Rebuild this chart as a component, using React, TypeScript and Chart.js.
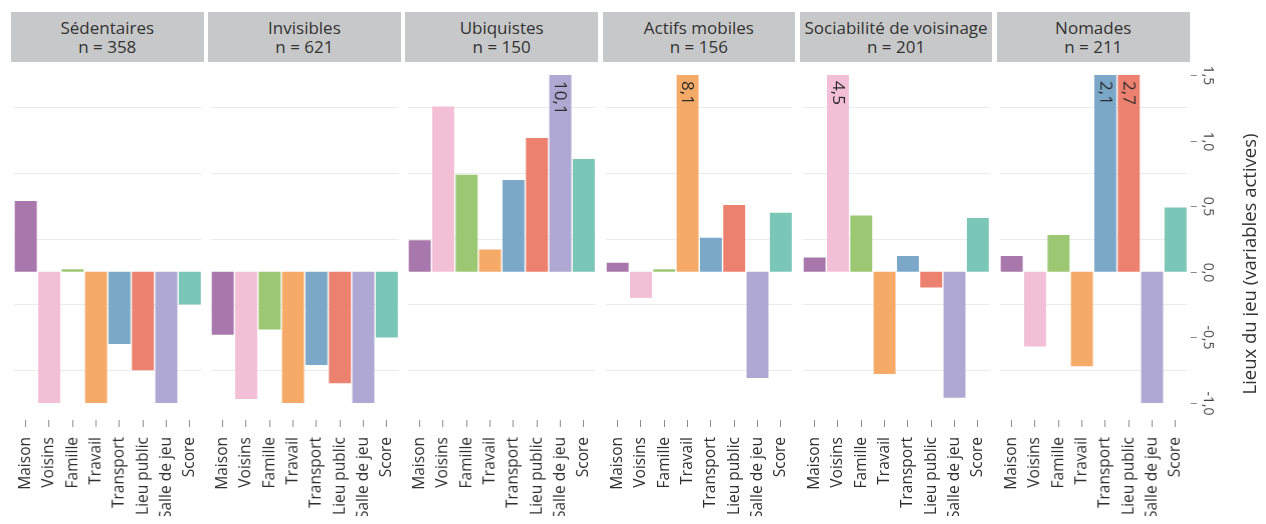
import { useEffect, useRef } from 'react';
import { Chart, registerables } from 'chart.js';

Chart.register(...registerables);

const categories = ['Maison', 'Voisins', 'Famille', 'Travail', 'Transport', 'Lieu public', 'Salle de jeu', 'Score'];
const panelNames = ['Sédentaires', 'Invisibles', 'Ubiquistes', 'Actifs mobiles', 'Sociabilité de voisinage', 'Nomades'];
const panelCounts = [358, 621, 150, 156, 201, 211];

// values, bars beyond the axis are clipped and labelled
const sedentaires = [0.54, -1.0, 0.02, -1.0, -0.55, -0.75, -1.0, -0.25];
const invisibles = [-0.48, -0.97, -0.44, -1.0, -0.71, -0.85, -1.0, -0.5];
const ubiquistes = [0.24, 1.26, 0.74, 0.17, 0.7, 1.02, 10.1, 0.86];
const actifsMobiles = [0.07, -0.2, 0.02, 8.1, 0.26, 0.51, -0.81, 0.45];
const sociabilite = [0.11, 4.5, 0.43, -0.78, 0.12, -0.12, -0.96, 0.41];
const nomades = [0.12, -0.57, 0.28, -0.72, 2.1, 2.7, -1.0, 0.49];
const panelValues = [sedentaires, invisibles, ubiquistes, actifsMobiles, sociabilite, nomades];

const barColors = ['#a878ad', '#f3bfd7', '#9cc874', '#f5ab67', '#7ba8c8', '#ec8170', '#aea8d2', '#7ac6b7'];
const yTickValues = [-1, -0.5, 0, 0.5, 1, 1.5];
const yGridValues = [-0.75, -0.25, 0.25, 0.75, 1.25];
const yTitle = 'Lieux du jeu (variables actives)';

const Y_MIN = -1.13;
const Y_MAX = 1.6;
const CLIP_LOW = -1;
const CLIP_HIGH = 1.5;

const PANEL_LEFT = 11;
const PANEL_STEP = 197.2;
const PANEL_W = 192.5;
const AXIS_W = 76;
const STRIP_TOP = 12;
const STRIP_H = 50;
const PLOT_TOP = 62;
const PLOT_H = 358;
const X_AXIS_H = 112;
const SIDE_PAD = 3;

const FONT = "'Open Sans', sans-serif";

const fmt = (v: number) => v.toFixed(1).replace('.', ',');
const clip = (v: number) => Math.max(CLIP_LOW, Math.min(CLIP_HIGH, v));

function overflowLabels(raw: number[]) {
  return {
    id: 'overflowLabels',
    afterDatasetsDraw(chart: any) {
      const ctx = chart.ctx;
      const meta = chart.getDatasetMeta(0);
      ctx.save();
      ctx.font = `500 17px ${FONT}`;
      ctx.fillStyle = '#2b2b2b';
      meta.data.forEach((bar: any, i: number) => {
        if (raw[i] <= CLIP_HIGH) return;
        const { x, y, width } = bar.getProps(['x', 'y', 'width'], true);
        ctx.save();
        ctx.translate(x + width / 2 - 3, y + 6);
        ctx.rotate(Math.PI / 2);
        ctx.textAlign = 'left';
        ctx.textBaseline = 'top';
        ctx.fillText(fmt(raw[i]), 0, 0);
        ctx.restore();
      });
      ctx.restore();
    },
  };
}

const rightAxis = {
  id: 'rightAxis',
  afterDraw(chart: any) {
    const ctx = chart.ctx;
    const area = chart.chartArea;
    const yScale = chart.scales.y;
    const edge = area.right + SIDE_PAD;
    ctx.save();
    ctx.strokeStyle = '#8a8a8a';
    ctx.lineWidth = 1;
    ctx.fillStyle = '#444444';
    ctx.font = `14px ${FONT}`;
    yTickValues.forEach((v) => {
      const py = Math.round(yScale.getPixelForValue(v)) + 0.5;
      ctx.beginPath();
      ctx.moveTo(edge + 0.5, py);
      ctx.lineTo(edge + 6.5, py);
      ctx.stroke();
      ctx.save();
      ctx.translate(edge + 17.5, py);
      ctx.rotate(Math.PI / 2);
      ctx.textAlign = 'center';
      ctx.textBaseline = 'middle';
      ctx.fillText(fmt(v), 0, 0);
      ctx.restore();
    });
    ctx.save();
    ctx.fillStyle = '#333333';
    ctx.font = `18.5px ${FONT}`;
    ctx.translate(edge + 60, (area.top + area.bottom) / 2 + 23);
    ctx.rotate(-Math.PI / 2);
    ctx.textAlign = 'center';
    ctx.textBaseline = 'middle';
    ctx.fillText(yTitle, 0, 0);
    ctx.restore();
    ctx.restore();
  },
};

function Panel({ index }: { index: number }) {
  const chartRef = useRef<HTMLCanvasElement | null>(null);
  const last = index === panelNames.length - 1;
  const width = PANEL_W + (last ? AXIS_W : 0);

  useEffect(() => {
    if (!chartRef.current) return;
    const raw = panelValues[index];
    const plugins: any[] = [overflowLabels(raw)];
    if (last) plugins.push(rightAxis);
    const chart = new Chart(chartRef.current, {
      type: 'bar',
      data: {
        labels: categories,
        datasets: [{
          data: raw.map(clip),
          backgroundColor: barColors,
          borderWidth: 0,
          barPercentage: 0.94,
          categoryPercentage: 1,
        }],
      },
      options: {
        animation: false,
        responsive: true,
        maintainAspectRatio: false,
        events: [],
        layout: { padding: { top: 0, bottom: 0, left: SIDE_PAD, right: SIDE_PAD + (last ? AXIS_W : 0) } },
        plugins: { legend: { display: false }, tooltip: { enabled: false } },
        scales: {
          x: {
            grid: { display: true, drawOnChartArea: false, drawTicks: true, tickLength: 7, offset: false, color: '#8a8a8a' },
            border: { display: false },
            ticks: {
              minRotation: 90,
              maxRotation: 90,
              autoSkip: false,
              padding: 10,
              color: '#2f2f2f',
              font: { family: FONT, size: 15.5, weight: 500 },
            },
            afterFit: (scale: any) => {
              scale.height = X_AXIS_H;
              scale.paddingLeft = 0;
              scale.paddingRight = 0;
            },
          },
          y: {
            min: Y_MIN,
            max: Y_MAX,
            grid: { color: '#ebebeb', lineWidth: 1, drawTicks: false },
            border: { display: false },
            ticks: { display: false },
            afterBuildTicks: (axis: any) => {
              axis.ticks = yGridValues.map((v) => ({ value: v }));
            },
          },
        },
      },
      plugins,
    });
    return () => chart.destroy();
  }, [index, last]);

  return (
    <div style={{ position: 'absolute', left: PANEL_LEFT + index * PANEL_STEP, top: 0, width, height: 524 }}>
      <div
        style={{
          position: 'absolute',
          left: 0,
          top: STRIP_TOP,
          width: PANEL_W,
          height: STRIP_H,
          background: '#c7c8c9',
          color: '#333333',
          display: 'flex',
          flexDirection: 'column',
          justifyContent: 'center',
          alignItems: 'center',
          fontFamily: FONT,
          fontWeight: 500,
          fontSize: 17,
          lineHeight: '19px',
          whiteSpace: 'nowrap',
        }}
      >
        <div>{panelNames[index]}</div>
        <div>n = {panelCounts[index]}</div>
      </div>
      <div style={{ position: 'absolute', left: 0, top: PLOT_TOP, width, height: PLOT_H + X_AXIS_H }}>
        <canvas ref={chartRef}></canvas>
      </div>
    </div>
  );
}

export default function App() {
  return (
    <div style={{ position: 'relative', margin: -8, width: 1266, height: 524, overflow: 'hidden', background: '#ffffff' }}>
      {panelNames.map((_, i) => (
        <Panel key={i} index={i} />
      ))}
    </div>
  );
}
